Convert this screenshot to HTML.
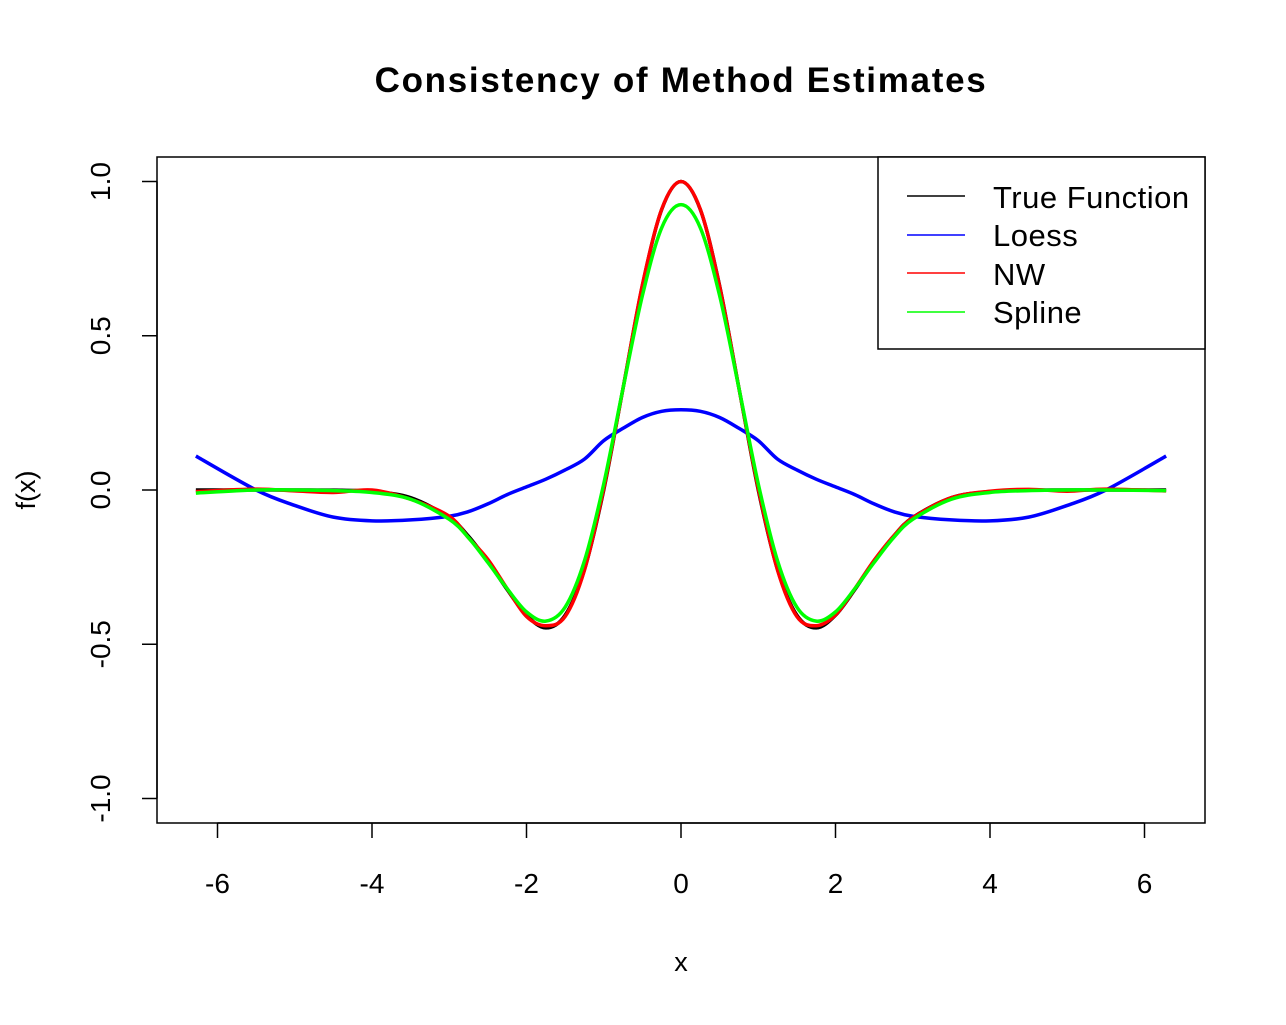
<!DOCTYPE html>
<html><head><meta charset="utf-8"><style>
body{margin:0;background:#fff}
svg text{font-family:"Liberation Sans",sans-serif;fill:#000}
</style></head><body>
<svg id="chart" width="1286" height="1020" viewBox="0 0 1286 1020" xmlns="http://www.w3.org/2000/svg">
<text x="681" y="92" font-size="35" font-weight="bold" text-anchor="middle" letter-spacing="1.7">Consistency of Method Estimates</text>
<rect x="157" y="157" width="1048" height="666" fill="none" stroke="#000" stroke-width="1.5"/>
<g id="xaxis"></g>
<g id="yaxis"></g>
<text x="681" y="971" font-size="27" text-anchor="middle">x</text>
<text transform="translate(35,490) rotate(-90)" font-size="27" text-anchor="middle">f(x)</text>
<g id="series"></g>
<g>
<rect x="878" y="157" width="327" height="192" fill="#fff" stroke="#000" stroke-width="1.5"/>
<line x1="907" x2="965" y1="196" y2="196" stroke="#000" stroke-width="1.5"/>
<text x="993" y="208" font-size="31" letter-spacing="0.5">True Function</text>
<line x1="907" x2="965" y1="235" y2="235" stroke="#0000ff" stroke-width="1.5"/>
<text x="993" y="246" font-size="31" letter-spacing="0.5">Loess</text>
<line x1="907" x2="965" y1="273" y2="273" stroke="#ff0000" stroke-width="1.5"/>
<text x="993" y="285" font-size="31" letter-spacing="0.5">NW</text>
<line x1="907" x2="965" y1="312" y2="312" stroke="#00ff00" stroke-width="1.5"/>
<text x="993" y="323" font-size="31" letter-spacing="0.5">Spline</text>
</g>
</svg>
<script>
const xValues=[-6.28,-5.5,-5,-4.5,-4,-3.5,-3,-2.75,-2.5,-2.25,-2,-1.75,-1.5,-1.25,-1,-0.75,-0.5,-0.25,0,0.25,0.5,0.75,1,1.25,1.5,1.75,2,2.25,2.5,2.75,3,3.5,4,4.5,5,5.5,6.28];
const trueValues=[0,0,0,-0.0005,-0.005,-0.025,-0.089,-0.15,-0.231,-0.323,-0.406,-0.447,-0.406,-0.258,0,0.33,0.662,0.909,1,0.909,0.662,0.33,0,-0.258,-0.406,-0.447,-0.406,-0.323,-0.231,-0.15,-0.089,-0.025,-0.005,-0.0005,0,0,0];
const loessValues=[0.11,0,-0.05,-0.088,-0.1,-0.097,-0.085,-0.07,-0.045,-0.015,0.01,0.035,0.065,0.1,0.16,0.2,0.235,0.255,0.26,0.255,0.235,0.2,0.16,0.1,0.065,0.035,0.01,-0.015,-0.045,-0.07,-0.085,-0.097,-0.1,-0.088,-0.05,0,0.11];
const nwValues=[-0.005,0.003,-0.003,-0.008,0,-0.03,-0.085,-0.155,-0.225,-0.32,-0.41,-0.44,-0.41,-0.26,0.005,0.33,0.665,0.91,1,0.91,0.66,0.33,0.005,-0.26,-0.41,-0.44,-0.405,-0.32,-0.228,-0.15,-0.09,-0.025,-0.004,0.002,-0.004,0.003,-0.003];
const splineValues=[-0.01,0,0,-0.002,-0.008,-0.03,-0.095,-0.155,-0.235,-0.32,-0.395,-0.425,-0.38,-0.23,0.02,0.33,0.63,0.85,0.925,0.85,0.63,0.33,0.02,-0.23,-0.38,-0.425,-0.395,-0.32,-0.235,-0.155,-0.095,-0.03,-0.008,-0.002,0,0,-0.002];
const xTicks=[-6,-4,-2,0,2,4,6];
const yTicks=[-1,-0.5,0,0.5,1];
const yTickLabels=["-1.0","-0.5","0.0","0.5","1.0"];
const NS="http://www.w3.org/2000/svg";
const xs=v=>681+v*77.25, ys=v=>490-v*308.5;
const xa=document.getElementById('xaxis'), ya=document.getElementById('yaxis'), sg=document.getElementById('series');
function mk(t,a,p){const e=document.createElementNS(NS,t);for(const k in a)e.setAttribute(k,a[k]);p.appendChild(e);return e;}
mk('line',{x1:xs(-6),x2:xs(6),y1:823,y2:823,stroke:'#000','stroke-width':1.5},xa);
xTicks.forEach(t=>{const l=mk('line',{x1:xs(t),x2:xs(t),y1:823,y2:838,stroke:'#000','stroke-width':1.5},xa);


const tx=mk('text',{x:xs(t),y:893,'font-size':28,'text-anchor':'middle'},xa);tx.textContent=t;

});
mk('line',{x1:157,x2:157,y1:ys(-1),y2:ys(1),stroke:'#000','stroke-width':1.5},ya);
yTicks.forEach((t,i)=>{const l=mk('line',{x1:142,x2:157,y1:ys(t),y2:ys(t),stroke:'#000','stroke-width':1.5},ya);


const tx=mk('text',{transform:`translate(110,${ys(t)}) rotate(-90)`,'font-size':28,'text-anchor':'middle'},ya);tx.textContent=yTickLabels[i];

});
function path(vals){const p=xValues.map((x,i)=>[xs(x),ys(vals[i])]);let d=`M${p[0][0]},${p[0][1]}`;
for(let i=0;i<p.length-1;i++){const p0=p[Math.max(i-1,0)],p1=p[i],p2=p[i+1],p3=p[Math.min(i+2,p.length-1)];
d+=` C${p1[0]+(p2[0]-p0[0])/6},${p1[1]+(p2[1]-p0[1])/6} ${p2[0]-(p3[0]-p1[0])/6},${p2[1]-(p3[1]-p1[1])/6} ${p2[0]},${p2[1]}`;}return d;}
[[trueValues,'#000','true-function-line'],[loessValues,'#0000ff','loess-line'],[nwValues,'#ff0000','nw-line'],[splineValues,'#00ff00','spline-line']].forEach(s=>{
const e=mk('path',{d:path(s[0]),fill:'none',stroke:s[1],'stroke-width':3.5,'stroke-linejoin':'round'},sg);

});
</script>
</body></html>
